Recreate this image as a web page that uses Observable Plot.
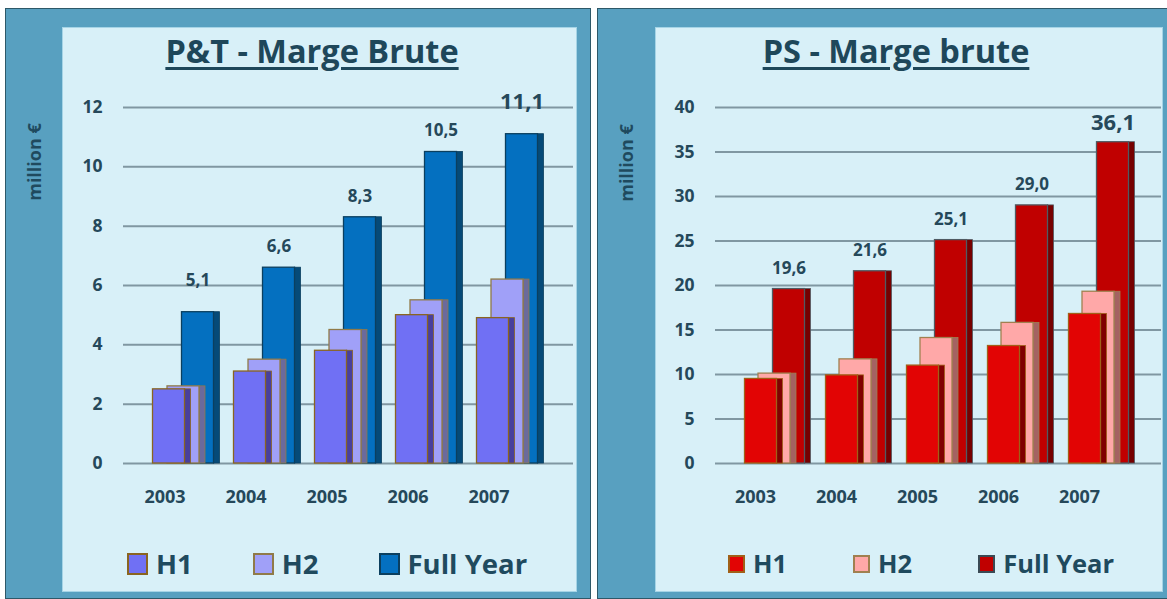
<!DOCTYPE html>
<html>
<head>
<meta charset="utf-8">
<script src="https://cdn.jsdelivr.net/npm/d3@7"></script>
<script src="https://cdn.jsdelivr.net/npm/@observablehq/plot@0.6"></script>
<style>
  html, body { margin: 0; padding: 0; }
  body { width: 1167px; height: 599px; overflow: hidden; position: relative; background: #ffffff; font-family: "Open Sans", sans-serif; }
  .outer { position: absolute; background: #58a0c0; border: 1.5px solid #2e5868; box-sizing: border-box; }
  .inner { position: absolute; background: #d8f0f8; border: 1.5px solid #a6d4e6; box-sizing: border-box; }
  .title { position: absolute; width: 500px; text-align: center; font-size: 32.5px; font-weight: 700; line-height: 1; color: #1e475a;
           text-decoration: underline; text-decoration-thickness: 3px; text-underline-offset: 4px; white-space: nowrap; }
  .ylab { position: absolute; width: 120px; height: 20px; line-height: 20px; text-align: center; font-size: 18px; font-weight: 700; color: #1f4a5e;
          transform: translate(-50%, -50%) rotate(-90deg); white-space: nowrap; }
  .chart { position: absolute; }
  .legend { position: absolute; display: flex; align-items: center; white-space: nowrap; color: #1f4a5e; font-weight: 700; line-height: 1; }
  .legend .item { display: flex; align-items: center; }
  .legend .sw { box-sizing: border-box; border: 2px solid; }
</style>
</head>
<body>
<div class="outer" style="left:5px; top:8px; width:586px; height:591px;"></div>
<div class="outer" style="left:597px; top:8px; width:575px; height:591px;"></div>
<div class="inner" style="left:62px; top:27px; width:515px; height:565px;"></div>
<div class="inner" style="left:655px; top:27px; width:508px; height:565px;"></div>

<div class="title" style="left:62px; top:35px;">P&amp;T - Marge Brute</div>
<div class="title" style="left:646px; top:35px;">PS - Marge brute</div>

<div class="ylab" style="left:34px; top:162px;">million €</div>
<div class="ylab" style="left:626px; top:163px;">million €</div>

<div id="chartLeft" class="chart" style="left:62px; top:90px;"></div>
<div id="chartRight" class="chart" style="left:655px; top:90px;"></div>

<div id="legendLeft" class="legend" style="left:127px; top:550px; font-size:27.5px;"></div>
<div id="legendRight" class="legend" style="left:728px; top:551px; font-size:25.5px;"></div>

<script>
// ---------- data ----------
const years = ["2003", "2004", "2005", "2006", "2007"];
const seriesNames = ["H1", "H2", "Full Year"];

const ptH1   = [2.5, 3.1, 3.8, 5.0, 4.9];
const ptH2   = [2.6, 3.5, 4.5, 5.5, 6.2];
const ptFull = [5.1, 6.6, 8.3, 10.5, 11.1];
const ptTicks = [0, 2, 4, 6, 8, 10, 12];

const psH1   = [9.5, 9.9, 11.0, 13.2, 16.8];
const psH2   = [10.1, 11.7, 14.1, 15.8, 19.3];
const psFull = [19.6, 21.6, 25.1, 29.0, 36.1];
const psTicks = [0, 5, 10, 15, 20, 25, 30, 35, 40];

// ---------- styles ----------
const textColor = "#25485a";
const gridColor = "#8097a2";

const ptColors = {
  front: ["#7070f4", "#a0a0f8", "#0470c0"],
  side:  ["#483f9c", "#6b6a9c", "#054a78"],
  stroke:["#8a6420", "#907a48", "#0b3f5f"],
  legendStroke: ["#8a6420", "#907a48", "#0b3f5f"]
};
const psColors = {
  front: ["#e20404", "#ffa8a8", "#c00000"],
  side:  ["#800000", "#a46262", "#760000"],
  stroke:["#a06018", "#a08050", "#505a62"],
  legendStroke: ["#a06018", "#a08050", "#3a4a55"]
};

const fmt = v => d3.format(".1f")(v).replace(".", ",");

function rows(vals) {
  return years.map((y, i) => ({ year: y, v: vals[i], i }));
}

function chart(cfg) {
  const series = [cfg.h1, cfg.h2, cfg.full];
  const bandW = 32, sideW = 6;
  const marks = [Plot.ruleY(cfg.ticks, { stroke: gridColor, strokeWidth: 2 })];
  // back to front: Full Year, H2, H1
  for (let s = 2; s >= 0; s--) {
    const data = rows(series[s]);
    const off = cfg.offsets[s];
    marks.push(Plot.barY(data, {
      x: "year", y: "v", dx: off + bandW, insetRight: bandW - sideW,
      fill: cfg.colors.side[s], stroke: cfg.colors.stroke[s], strokeWidth: 0.8
    }));
    marks.push(Plot.barY(data, {
      x: "year", y: "v", dx: off,
      fill: cfg.colors.front[s], stroke: cfg.colors.stroke[s], strokeWidth: 1.3
    }));
  }
  const fullRows = rows(cfg.full);
  for (const g of cfg.labelGroups) {
    marks.push(Plot.text(fullRows.filter(d => g.idx.includes(d.i)), {
      x: "year", y: "v", dx: cfg.offsets[2], dy: g.dy,
      text: d => fmt(d.v), fontSize: g.size, fontWeight: "bold", fill: textColor
    }));
  }
  marks.push(Plot.axisY({ ticks: cfg.ticks, tickSize: 0, tickPadding: 21, fontSize: 17.5, fontWeight: "bold", fill: textColor, label: null }));
  marks.push(Plot.axisX({ tickSize: 0, tickPadding: 27, dx: cfg.yearDx, fontSize: 18, fontWeight: "bold", fill: textColor, label: null }));

  return Plot.plot({
    width: cfg.width, height: 430,
    marginLeft: cfg.marginLeft, marginRight: cfg.marginRight, marginTop: 17, marginBottom: 57,
    x: { domain: years, range: cfg.range, paddingInner: 1 - bandW / 81, paddingOuter: 0 },
    y: { domain: [0, cfg.ticks[cfg.ticks.length - 1]] },
    style: { background: "transparent", fontFamily: "Open Sans, sans-serif", color: textColor, overflow: "visible" },
    marks
  });
}

document.getElementById("chartLeft").append(chart({
  h1: ptH1, h2: ptH2, full: ptFull, ticks: ptTicks, colors: ptColors,
  width: 515, marginLeft: 61, marginRight: 4, range: [104.5, 460.5],
  offsets: [-14.5, 0, 14.5], yearDx: -18.5,
  labelGroups: [{ idx: [1, 2, 3], dy: -21, size: 17 }, { idx: [0], dy: -32, size: 17 }, { idx: [4], dy: -32, size: 22 }]
}));

document.getElementById("chartRight").append(chart({
  h1: psH1, h2: psH2, full: psFull, ticks: psTicks, colors: psColors,
  width: 508, marginLeft: 60, marginRight: 2, range: [102.5, 458.5],
  offsets: [-13.5, 0, 14.5], yearDx: -19,
  labelGroups: [{ idx: [0, 1, 2, 3], dy: -21, size: 17 }, { idx: [4], dy: -19, size: 22 }]
}));

function legend(el, colors, sw, gap, swGap) {
  seriesNames.forEach((name, i) => {
    const item = document.createElement("div");
    item.className = "item";
    if (i > 0) item.style.marginLeft = gap + "px";
    const box = document.createElement("div");
    box.className = "sw";
    box.style.width = sw + "px"; box.style.height = (sw + 1) + "px";
    box.style.background = colors.front[i];
    box.style.borderColor = colors.legendStroke[i];
    box.style.marginRight = swGap + "px";
    const t = document.createElement("span");
    t.textContent = name;
    item.append(box, t);
    el.append(item);
  });
}
legend(document.getElementById("legendLeft"), ptColors, 21, 60, 8);
legend(document.getElementById("legendRight"), psColors, 17, 66, 8);
</script>
</body>
</html>
